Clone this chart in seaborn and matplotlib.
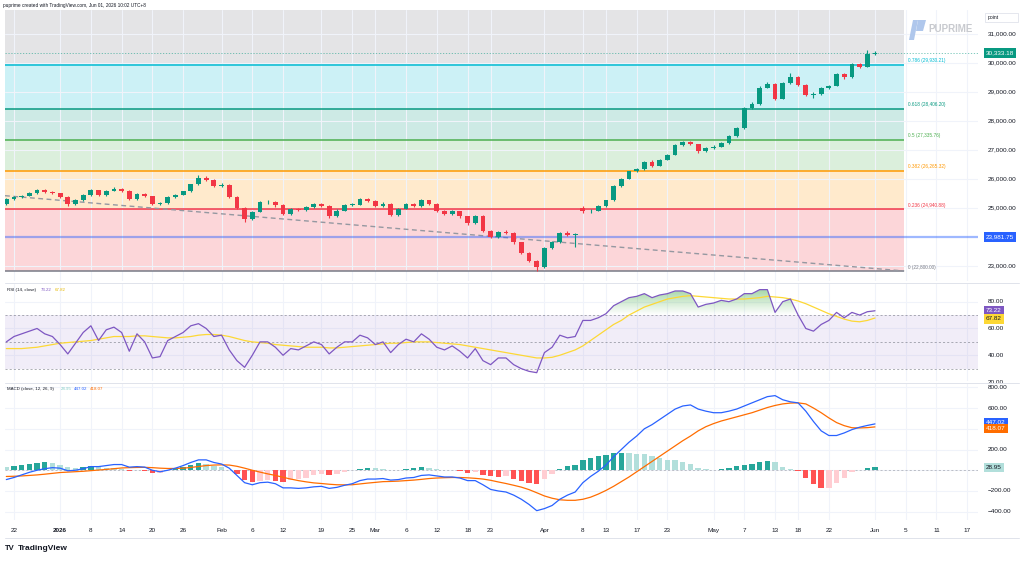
import numpy as np
import matplotlib
matplotlib.use("Agg")
import matplotlib.pyplot as plt
import seaborn as sns
from matplotlib.transforms import blended_transform_factory as btf
from matplotlib.path import Path
from matplotlib.colors import LinearSegmentedColormap
from matplotlib.patches import Rectangle, Polygon
from matplotlib.lines import Line2D

# ---------------- data ----------------
opens = [25120, 25290, 25360, 25420, 25500, 25600, 25540, 25500, 25380, 25130,
         25260, 25430, 25600, 25430, 25580, 25650, 25580, 25300, 25480, 25400,
         25130, 25150, 25360, 25450, 25560, 25800, 26040, 25960, 25760, 25790,
         25380, 24980, 24600, 24860, 25200, 25200, 25080, 24780, 24950, 24920,
         25020, 25120, 25060, 24700, 24900, 25100, 25100, 25300, 25230, 25060,
         25140, 24750, 24960, 25120, 25050, 25260, 25140, 24880, 24780, 24880,
         24700, 24460, 24720, 24200, 23980, 24160, 24140, 23800, 23450, 23150,
         22950, 23600, 23800, 24120, 24060, 24980, 24880, 24900, 25060, 25250,
         25750, 26000, 26250, 26330, 26580, 26450, 26650, 26820, 27150, 27250,
         27180, 26950, 27050, 27110, 27230, 27460, 27740, 28440, 28560, 29140,
         29280, 28760, 29300, 29520, 29240, 28900, 28920, 29120, 29200, 29620,
         29500, 29950, 29860, 30300]
highs = [25330, 25400, 25450, 25530, 25640, 25640, 25580, 25520, 25420, 25290,
         25460, 25640, 25620, 25610, 25700, 25690, 25600, 25520, 25510, 25420,
         25200, 25390, 25480, 25590, 25830, 26110, 26080, 25990, 25850, 25810,
         25420, 25020, 24900, 25240, 25280, 25230, 25110, 24990, 25000, 25060,
         25160, 25150, 25080, 24940, 25130, 25160, 25340, 25330, 25250, 25180,
         25160, 25000, 25150, 25160, 25290, 25280, 25160, 24920, 24910, 24900,
         24720, 24760, 24740, 24220, 24200, 24230, 24160, 23820, 23480, 23200,
         23640, 23840, 24160, 24180, 24120, 25060, 24960, 25100, 25280, 25790,
         26040, 26280, 26370, 26620, 26640, 26690, 26860, 27190, 27300, 27290,
         27200, 27080, 27150, 27260, 27490, 27780, 28480, 28640, 29180, 29330,
         29300, 29340, 29640, 29540, 29260, 28990, 29150, 29240, 29660, 29650,
         29990, 30000, 30440, 30400]
lows = [25090, 25270, 25330, 25400, 25480, 25510, 25460, 25340, 25060, 25100,
        25240, 25410, 25400, 25410, 25560, 25540, 25260, 25280, 25370, 25090,
        25080, 25130, 25330, 25430, 25540, 25780, 25930, 25720, 25700, 25340,
        24940, 24520, 24560, 24840, 25140, 25040, 24740, 24760, 24880, 24900,
        25000, 25030, 24650, 24680, 24880, 25050, 25080, 25200, 25030, 25040,
        24720, 24730, 24940, 25010, 25030, 25100, 24850, 24740, 24760, 24660,
        24420, 24440, 24160, 23940, 23960, 24100, 23760, 23420, 23120, 22800,
        22930, 23580, 23780, 24020, 23660, 24820, 24820, 24880, 25040, 25230,
        25730, 25980, 26220, 26310, 26420, 26430, 26630, 26800, 27120, 27150,
        26900, 26930, 27020, 27090, 27210, 27440, 27720, 28420, 28540, 29120,
        28700, 28740, 29280, 29200, 28850, 28780, 28900, 29080, 29180, 29450,
        29480, 29820, 29840, 30260]
closes = [25290, 25360, 25420, 25500, 25600, 25540, 25500, 25380, 25130, 25260,
          25430, 25600, 25430, 25580, 25650, 25580, 25300, 25480, 25400, 25130,
          25150, 25360, 25450, 25560, 25800, 26040, 25960, 25760, 25790, 25380,
          24980, 24600, 24860, 25200, 25200, 25080, 24780, 24950, 24920, 25020,
          25120, 25060, 24700, 24900, 25100, 25100, 25300, 25230, 25060, 25140,
          24750, 24960, 25120, 25050, 25260, 25140, 24880, 24780, 24880, 24700,
          24460, 24720, 24200, 23980, 24160, 24140, 23800, 23450, 23150, 22950,
          23600, 23800, 24120, 24060, 24080, 24880, 24900, 25060, 25250, 25750,
          26000, 26250, 26330, 26580, 26450, 26650, 26820, 27150, 27250, 27180,
          26950, 27050, 27110, 27230, 27460, 27740, 28440, 28560, 29140, 29280,
          28760, 29300, 29520, 29240, 28900, 28920, 29120, 29200, 29620, 29500,
          29950, 29860, 30300, 30333.18]

rsi = [50, 54, 56, 58, 60, 56, 54, 48, 41, 49,
       57, 62, 51, 59, 61, 57, 43, 56, 50, 38,
       39, 51, 54, 57, 62, 63.6, 60, 54, 55, 44,
       36, 31, 40, 50, 50, 46, 40, 45, 44, 47,
       50, 48, 41, 46, 50, 50, 55, 53, 48, 50,
       42, 48, 52, 50, 56, 52, 46, 44, 47, 43,
       38, 45, 36, 33, 38, 38, 33, 30, 28, 27,
       42, 46, 55, 53, 54, 66, 66, 68, 71, 77,
       80, 83, 84, 86, 83, 85, 86, 88, 88, 86,
       76, 78, 79, 81, 80, 82, 86, 86, 89, 89,
       72, 80, 82, 70, 60, 58, 63, 66, 72, 68,
       72, 70, 72.5, 73.22]
rsi_ma = [45, 45, 45, 45.5, 46, 47, 48, 49, 49.5, 50,
          50.5, 51, 52, 53, 54, 54, 54, 54.5, 54.5, 54,
          53.5, 53, 53, 53.5, 54, 55, 55.5, 55.5, 55, 54,
          52.5, 51, 50, 49.5, 49, 48, 47.5, 47, 46.5, 46,
          46, 46, 45.5, 45.5, 46, 46.5, 47, 47.5, 48, 48.5,
          49, 49, 49.5, 50, 50, 50, 49.5, 49, 48.5, 48,
          47, 46, 45, 44, 43, 42, 41, 40, 39, 38,
          38, 38.5, 40, 42, 44, 47, 51, 55, 59, 63,
          66, 70, 73, 76, 78, 80, 82, 83, 84, 84.5,
          84, 83.5, 83, 82.5, 82, 82, 82, 82.5, 83, 84,
          83.5, 83, 82, 80.5, 78.5, 76, 73.5, 71, 69, 67,
          65.5, 65, 66, 67.82]

macd = [-90, -70, -45, -20, 0, 15, 25, 20, -5, 0,
        15, 35, 35, 45, 55, 55, 30, 35, 30, 0,
        -15, 0, 20, 45, 75, 100, 100, 75, 60, 20,
        -50, -120, -140, -120, -115, -130, -170, -170, -175, -170,
        -160, -155, -175, -165, -145, -130, -100, -85, -85, -80,
        -95, -90, -75, -70, -50, -45, -55, -65, -65, -75,
        -100, -100, -140, -185, -200, -210, -240, -280, -330, -390,
        -370, -340, -280, -240, -210, -120, -60, -10, 50, 130,
        200, 270, 330, 400, 440, 490, 540, 590, 620, 630,
        590, 570, 555, 555, 570, 590, 620, 650, 680, 710,
        720, 680, 660, 650, 570, 470, 380, 335, 335, 360,
        392, 415, 432, 447.02]
signal = [-60, -58, -55, -50, -45, -38, -30, -22, -18, -14,
          -10, -4, 2, 8, 15, 22, 25, 27, 28, 25,
          20, 17, 17, 20, 27, 36, 45, 50, 52, 50,
          38, 20, 0, -18, -35, -50, -68, -85, -100, -112,
          -122, -128, -135, -140, -141, -140, -132, -124, -117, -110,
          -108, -105, -100, -95, -88, -80, -75, -72, -70, -70,
          -73, -78, -85, -97, -113, -128, -145, -163, -187, -217,
          -248, -270, -285, -290, -290, -280, -260, -230, -195, -155,
          -110, -65, -15, 35, 85, 135, 185, 235, 285, 330,
          380, 420, 450, 475, 495, 515, 535, 555, 580, 605,
          625, 640, 648, 650, 640, 600, 555, 505, 460, 430,
          410, 408, 411, 418.07]
hist = [30, 45, 55, 65, 70, 75, 70, 55, 35, 25,
        30, 40, 30, 25, 20, 15, -5, 0, -5, -25,
        -25, -5, 15, 35, 55, 70, 60, 40, 30, 5,
        -40, -90, -110, -100, -95, -100, -110, -95, -85, -70,
        -50, -40, -50, -35, -20, 0, 15, 25, 20, 15,
        0, 5, 15, 20, 30, 25, 15, 5, 0, -10,
        -25, -20, -45, -60, -65, -60, -80, -100, -120, -130,
        -80, -40, 10, 40, 50, 100, 120, 135, 150, 165,
        170, 170, 160, 155, 140, 120, 100, 95, 80, 60,
        25, 10, 5, 15, 25, 40, 55, 60, 75, 85,
        80, 35, 10, -5, -70, -130, -175, -170, -125, -70,
        -18, 7, 21, 28.95]

tick_pos = [1, 7, 11, 15, 19, 23, 28, 32, 36, 41, 45, 48, 52, 56, 60, 63, 70,
            75, 78, 82, 86, 92, 96, 100, 103, 107, 113, 117, 121, 125]
tick_labels = ["22", "2026", "8", "14", "20", "26", "Feb", "6", "12", "19", "25",
               "Mar", "6", "12", "18", "23", "Apr", "8", "13", "17", "23", "May",
               "7", "13", "18", "22", "Jun", "5", "11", "17"]

fib_names = ["0", "0.236", "0.382", "0.5", "0.618", "0.786", "1"]
fib_values = [22800.00, 24940.88, 26265.32, 27335.76, 28406.20, 29930.21, 31871.50]
fib_colors = ["#787B86", "#F23645", "#FF9800", "#4CAF50", "#089981", "#00BCD4", "#787B86"]
fib_end = 116.8
trend_prices = [25414, 22817]
blue_level = 23981.75
last_price = 30333.18
price_ticks = [23000, 25000, 26000, 27000, 28000, 29000, 30000, 31000]
rsi_ticks = [20, 40, 60, 80]
macd_ticks = [-400, -200, 200, 600, 800]

# ---------------- style ----------------
sns.set_theme(style="white")
plt.rcParams["font.family"] = ["Liberation Sans", "DejaVu Sans"]
TXT = "#131722"
GRID = "#F0F3FA"

W, H = 1024, 562
fig = plt.figure(figsize=(W / 100, H / 100), dpi=100)
fig.patch.set_facecolor("white")


def rect(x0, y0, x1, y1):
    return [x0 / W, 1 - y1 / H, (x1 - x0) / W, (y1 - y0) / H]


ax = fig.add_axes(rect(5, 10, 978, 281))
ax_r = fig.add_axes(rect(5, 284, 978, 381), sharex=ax)
ax_m = fig.add_axes(rect(5, 384, 978, 520), sharex=ax)

XL, XR = -0.17, 126.4
n = len(closes)
xs = np.arange(n)

for a in (ax, ax_r, ax_m):
    a.set_facecolor("white")
    for s in a.spines.values():
        s.set_visible(False)
    a.set_xticks(tick_pos)
    a.grid(True, axis="x", color=GRID, lw=0.8)
    a.set_axisbelow(True)
    a.tick_params(axis="both", length=0, labelleft=False, labelright=False, labelbottom=False)

# ---------------- main panel ----------------
for k in range(6):
    ax.fill_between([XL, fib_end], fib_values[k], fib_values[k + 1],
                    color=fib_colors[k + 1], alpha=0.2, lw=0, zorder=0)
for k in range(6):
    ax.hlines(fib_values[k], XL, fib_end, color=fib_colors[k], lw=1.1, zorder=1.5)
    ax.text(fib_end + 0.5, fib_values[k] + 60, f"{fib_names[k]} ({fib_values[k]:,.2f})",
            fontsize=3.4, color=fib_colors[k], va="bottom", ha="left")

ax.set_yticks(price_ticks)
ax.grid(True, axis="y", color=GRID, lw=0.8)

ax.plot([XL, fib_end], trend_prices, color="#9598A1", lw=1.0, dashes=(3.5, 2.5), zorder=2)
ax.axhline(blue_level, color="#2962FF", alpha=0.45, lw=1.6, zorder=2.5)
ax.axhline(last_price, color="#089981", alpha=0.6, lw=0.6, ls=(0, (1.5, 2)), zorder=2.5)

o = np.array(opens, float)
c = np.array(closes, float)
up = c >= o
ccol = np.where(up, "#089981", "#F23645")
ax.vlines(xs, lows, highs, colors=ccol, lw=0.8, zorder=3)
body = np.maximum(np.abs(c - o), 12)
ax.bar(xs, body, bottom=np.minimum(o, c), width=0.62, color=ccol, lw=0, zorder=4)

ax.set_ylim(22472, 31817)
tr = btf(fig.transFigure, ax.transData)
for p in price_ticks:
    ax.text(988 / W, p, f"{p:,.2f}", transform=tr, fontsize=4.6, color=TXT, va="center", ha="left")
ax.text(986 / W, last_price, f"{last_price:,.2f}", transform=tr, fontsize=4.6, color="white",
        va="center", ha="left", bbox=dict(boxstyle="square,pad=0.35", fc="#089981", ec="none"))
ax.text(986 / W, blue_level, f"{blue_level:,.2f}", transform=tr, fontsize=4.6, color="white",
        va="center", ha="left", bbox=dict(boxstyle="square,pad=0.35", fc="#2962FF", ec="none"))

# ---------------- RSI panel ----------------
ax_r.set_yticks(rsi_ticks)
ax_r.grid(True, axis="y", color=GRID, lw=0.8)
ax_r.fill_between([XL, XR], 30, 70, color="#7E57C2", alpha=0.1, lw=0, zorder=0.6)
for lv in (70, 50, 30):
    ax_r.axhline(lv, color="#787B86", alpha=0.7, lw=0.6, dashes=(2.5, 2.5), zorder=1)

rs = np.array(rsi, float)
pc = ax_r.fill_between(xs, 70, rs, where=rs >= 70, interpolate=True, lw=0)
paths = pc.get_paths()
pc.remove()
if paths:
    cmap = LinearSegmentedColormap.from_list("ob", [(0.30, 0.69, 0.31, 0.0), (0.30, 0.69, 0.31, 0.8)])
    im = ax_r.imshow(np.linspace(0, 1, 100).reshape(-1, 1), extent=[XL, XR, 70, 100],
                     origin="lower", aspect="auto", cmap=cmap, zorder=1.2)
    im.set_clip_path(Path.make_compound_path(*paths), transform=ax_r.transData)
pc2 = ax_r.fill_between(xs, 30, rs, where=rs <= 30, interpolate=True, lw=0)
paths2 = pc2.get_paths()
pc2.remove()
if paths2:
    cmap2 = LinearSegmentedColormap.from_list("os", [(0.95, 0.21, 0.27, 0.8), (0.95, 0.21, 0.27, 0.0)])
    im2 = ax_r.imshow(np.linspace(0, 1, 100).reshape(-1, 1), extent=[XL, XR, 0, 30],
                      origin="lower", aspect="auto", cmap=cmap2, zorder=1.2)
    im2.set_clip_path(Path.make_compound_path(*paths2), transform=ax_r.transData)

sns.lineplot(x=xs, y=rsi_ma, ax=ax_r, color="#FDD835", lw=0.9, zorder=3, legend=False)
sns.lineplot(x=xs, y=rsi, ax=ax_r, color="#7E57C2", lw=0.9, zorder=4, legend=False)
ax_r.set_ylim(20.8, 93.2)
trr = btf(fig.transFigure, ax_r.transData)
for p in rsi_ticks:
    ax_r.text(988 / W, p, f"{p:.2f}", transform=trr, fontsize=4.6, color=TXT, va="center", ha="left")
ax_r.text(986 / W, rsi[-1], f"{rsi[-1]:.2f}", transform=trr, fontsize=4.6, color="white",
          va="center", ha="left", bbox=dict(boxstyle="square,pad=0.35", fc="#7E57C2", ec="none"))
ax_r.text(986 / W, rsi_ma[-1] - 0.6, f"{rsi_ma[-1]:.2f}", transform=trr, fontsize=4.6, color=TXT,
          va="center", ha="left", bbox=dict(boxstyle="square,pad=0.35", fc="#FDD835", ec="none"))

# ---------------- MACD panel ----------------
ax_m.set_yticks(macd_ticks + [0, 400])
ax_m.grid(True, axis="y", color=GRID, lw=0.8)
ax_m.axhline(0, color="#B2B5BE", lw=0.6, dashes=(2.5, 2.5), zorder=1)
hcols = []
for k, h in enumerate(hist):
    prev = hist[k - 1] if k > 0 else h
    if h >= 0:
        hcols.append("#26A69A" if h > prev else "#B2DFDB")
    else:
        hcols.append("#FF5252" if h < prev else "#FFCDD2")
ax_m.bar(xs, hist, width=0.7, color=hcols, lw=0, zorder=2)
sns.lineplot(x=xs, y=signal, ax=ax_m, color="#FF6D00", lw=0.9, zorder=3, legend=False)
sns.lineplot(x=xs, y=macd, ax=ax_m, color="#2962FF", lw=0.9, zorder=4, legend=False)
ax_m.set_ylim(-480, 832)
trm = btf(fig.transFigure, ax_m.transData)
for p in macd_ticks:
    s = f"{abs(p):.2f}"
    s = ("\u2212" + s) if p < 0 else s
    ax_m.text(988 / W, p, s, transform=trm, fontsize=4.6, color=TXT, va="center", ha="left")
ax_m.text(986 / W, macd[-1] + 15, f"{macd[-1]:.2f}", transform=trm, fontsize=4.6, color="white",
          va="center", ha="left", bbox=dict(boxstyle="square,pad=0.35", fc="#2962FF", ec="none"))
ax_m.text(986 / W, signal[-1] - 15, f"{signal[-1]:.2f}", transform=trm, fontsize=4.6, color="white",
          va="center", ha="left", bbox=dict(boxstyle="square,pad=0.35", fc="#FF6D00", ec="none"))
ax_m.text(986 / W, hist[-1], f"{hist[-1]:.2f}", transform=trm, fontsize=4.6, color=TXT,
          va="center", ha="left", bbox=dict(boxstyle="square,pad=0.35", fc="#B2DFDB", ec="none"))

ax_m.set_xticklabels(tick_labels)
ax_m.tick_params(axis="x", labelbottom=True, labelsize=4.6, labelcolor=TXT, pad=5.5)
for lbl in ax_m.get_xticklabels():
    if lbl.get_text() == "2026":
        lbl.set_fontweight("bold")
for a in (ax, ax_r, ax_m):
    a.set_xlabel("")
    a.set_ylabel("")
ax.set_xlim(XL, XR)

# ---------------- decorations ----------------
for yy in (282.5, 382.5, 538):
    fig.add_artist(Line2D([5 / W, 1019 / W], [1 - yy / H, 1 - yy / H], color="#E0E3EB", lw=0.7))

fig.text(3 / W, 1 - 5 / H, "puprime created with TradingView.com, Jun 01, 2026 10:02 UTC+8",
         fontsize=3.4, color=TXT, va="center", ha="left")
fig.text(7 / W, 1 - 290 / H, "RSI (14, close)", fontsize=3.2, color=TXT, va="center", ha="left")
fig.text(41 / W, 1 - 290 / H, f"{rsi[-1]:.2f}", fontsize=3.2, color="#7E57C2", va="center", ha="left")
fig.text(55 / W, 1 - 290 / H, f"{rsi_ma[-1]:.2f}", fontsize=3.2, color="#E6B800", va="center", ha="left")
fig.text(7 / W, 1 - 389 / H, "MACD (close, 12, 26, 9)", fontsize=3.2, color=TXT, va="center", ha="left")
fig.text(61 / W, 1 - 389 / H, f"{hist[-1]:.2f}", fontsize=3.2, color="#80CBC4", va="center", ha="left")
fig.text(74 / W, 1 - 389 / H, f"{macd[-1]:.2f}", fontsize=3.2, color="#2962FF", va="center", ha="left")
fig.text(90 / W, 1 - 389 / H, f"{signal[-1]:.2f}", fontsize=3.2, color="#FF6D00", va="center", ha="left")

# "point" box
fig.add_artist(Rectangle((985 / W, 1 - 22 / H), 33 / W, 9 / H, transform=fig.transFigure,
                         fc="white", ec="#E0E3EB", lw=0.6))
fig.text(988 / W, 1 - 17.5 / H, "point", fontsize=3.6, color=TXT, va="center", ha="left")

# PU PRIME watermark
fig.add_artist(Polygon([[909 / W, 1 - 40 / H], [913 / W, 1 - 20 / H], [918 / W, 1 - 20 / H],
                        [914 / W, 1 - 40 / H]], closed=True, transform=fig.transFigure,
                       fc="#AFC7EC", ec="none"))
fig.add_artist(Polygon([[918 / W, 1 - 20 / H], [926 / W, 1 - 20 / H], [923 / W, 1 - 31 / H],
                        [916 / W, 1 - 31 / H]], closed=True, transform=fig.transFigure,
                       fc="#AFC7EC", ec="none"))
fig.text(928 / W, 1 - 29 / H, "PUPRIME", fontsize=7, fontweight="bold", color="#C8CACF",
         va="center", ha="left")

# TradingView logo
fig.text(5 / W, 1 - 549 / H, "TV", fontsize=5.5, fontweight="heavy", color="#131722", va="center", ha="left")
fig.text(18 / W, 1 - 549 / H, "TradingView", fontsize=6, fontweight="bold", color="#131722",
         va="center", ha="left")

fig.savefig("out.png", dpi=100, facecolor="white")
